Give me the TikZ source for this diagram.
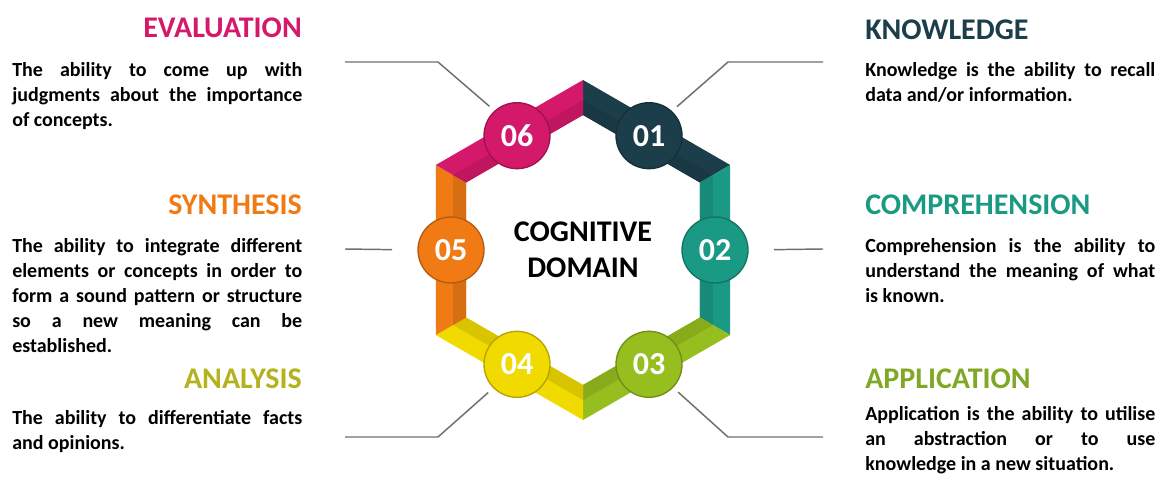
\documentclass[tikz,border=0pt]{standalone}
\usepackage{fontspec}
\setmainfont{Carlito}
\usetikzlibrary{calc}

\definecolor{evalcol}{RGB}{212,24,106}
\definecolor{knowcol}{RGB}{28,62,74}
\definecolor{compcol}{RGB}{26,154,132}
\definecolor{applcol}{RGB}{150,190,30}
\definecolor{analcol}{RGB}{240,218,0}
\definecolor{synthcol}{RGB}{240,122,20}
\definecolor{analtext}{RGB}{180,178,30}
\definecolor{appltext}{RGB}{128,168,38}
\definecolor{leadgray}{RGB}{110,110,110}

\hyphenpenalty=10000
\exhyphenpenalty=10000
\hbadness=10000

\begin{document}
\begin{tikzpicture}[
		x=0.75pt, y=-0.75pt,
		every node/.style={inner sep=0pt, font=\bfseries},
		title/.style={font=\fontsize{22.5}{27}\selectfont\bfseries},
		body/.style={text width=217.5pt, align=justify, font=\fontsize{15}{18.75}\selectfont\bfseries},
		num/.style={circle, minimum size=49.5pt, line width=1pt, text=white, font=\fontsize{24}{24}\selectfont\bfseries},
		centre/.style={align=center, font=\fontsize{22.5}{27}\selectfont\bfseries},
		leader/.style={draw=leadgray, line width=1.1pt},
		]
		\useasboundingbox (0,0) rectangle (1157,477);

		\begin{scope}[shift={(583,250)}]
			\foreach \k/\col in {1/knowcol,2/compcol,3/applcol,4/analcol,5/synthcol,6/evalcol}{
				\pgfmathsetmacro\a{-90+60*(\k-1)}
				\pgfmathsetmacro\b{\a+60}
				\fill[\col] (\a:170) -- (\b:170) -- (\b:135) -- (\a:135) -- cycle;
				\fill[\col!90!black] (\a:135) -- (\b:135) -- (\b:150) -- (\a:150) -- cycle;
			}
			\foreach \k/\col in {1/knowcol,2/compcol,3/applcol,4/analcol,5/synthcol,6/evalcol}{
				\pgfmathsetmacro\m{-60+60*(\k-1)}
				\node[num, fill=\col, draw=\col!75!black] (n\k) at (\m:132) {0\k};
			}
			\node[centre] (domain) at (0,0) {COGNITIVE\\DOMAIN};
		\end{scope}

		\node[title, text=evalcol, anchor=base east] (evaltitle) at (302,38) {EVALUATION};
		\node[body, anchor=base west] (evaltext) at (12,77) {The ability to come up with\linebreak judgments about the importance\linebreak of concepts.};
		\node[title, text=synthcol, anchor=base east] (synthtitle) at (302,215) {SYNTHESIS};
		\node[body, anchor=base west] (synthtext) at (12,253) {The ability to integrate different\linebreak elements or concepts in order to\linebreak form a sound pattern or structure\linebreak so a new meaning can be\linebreak established.};
		\node[title, text=analtext, anchor=base east] (analtitle) at (302,388) {ANALYSIS};
		\node[body, anchor=base west] (analtext) at (12,424) {The ability to differentiate facts\linebreak and opinions.};

		\node[title, text=knowcol, anchor=base west] (knowtitle) at (865,40) {KNOWLEDGE};
		\node[body, anchor=base west] (knowtext) at (865,77) {Knowledge is the ability to recall\linebreak data and/or information.};
		\node[title, text=compcol, anchor=base west] (comptitle) at (865,215) {COMPREHENSION};
		\node[body, anchor=base west] (comptext) at (865,253) {Comprehension is the ability to\linebreak understand the meaning of what\linebreak is known.};
		\node[title, text=appltext, anchor=base west] (appltitle) at (865,388) {APPLICATION};
		\node[body, anchor=base west] (appltext) at (865,421) {Application is the ability to utilise\linebreak an abstraction or to use\linebreak knowledge in a new situation.};

		\coordinate (evalbend) at (438,62);
		\coordinate (evalend) at (345,62);
		\coordinate (knowbend) at (728,62);
		\coordinate (knowend) at (823,62);
		\coordinate (synthend) at (345,249);
		\coordinate (compend) at (823,249);
		\coordinate (analbend) at (438,437);
		\coordinate (analend) at (345,437);
		\coordinate (applbend) at (728,437);
		\coordinate (applend) at (823,437);

		\draw[leader, shorten <=5pt] (n6.132) -- (evalbend) -- (evalend);
		\draw[leader, shorten <=5pt] (n1.47) -- (knowbend) -- (knowend);
		\draw[leader, shorten <=19pt] (n5.west) -- (synthend);
		\draw[leader, shorten <=19pt] (n2.east) -- (compend);
		\draw[leader, shorten <=5pt] (n4.-135) -- (analbend) -- (analend);
		\draw[leader, shorten <=5pt] (n3.-44) -- (applbend) -- (applend);
	\end{tikzpicture}
\end{document}
